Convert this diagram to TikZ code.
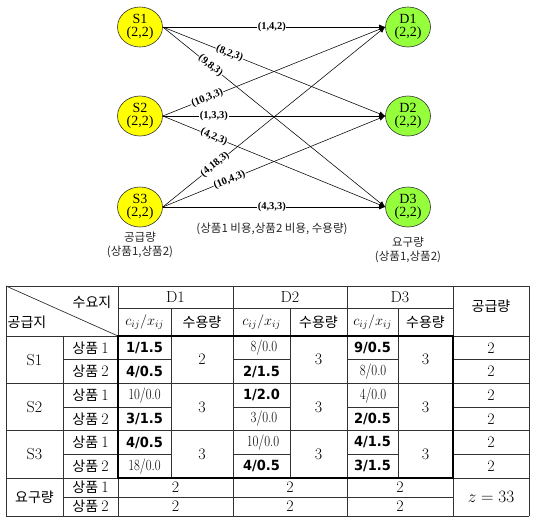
\documentclass[tikz,border=0pt]{standalone}
\usepackage{fontspec}
\usepackage{graphicx}
\newfontfamily\tms{Liberation Serif}
\newfontfamily\kr{Noto Sans CJK KR}
\newfontfamily\bsans{DejaVu Sans}
\usetikzlibrary{arrows.meta,shapes.geometric}
\definecolor{sy}{RGB}{255,255,0}
\definecolor{dg}{RGB}{150,255,60}
\definecolor{tl}{RGB}{50,50,50}
\newcommand\cxv[1]{\scalebox{0.82}[1]{#1}}
\newcommand\bxv[1]{\scalebox{0.93}[1]{#1}}
\newcommand\pn[1]{상품 {\rmfamily\fontsize{16}{16}\selectfont #1}}
\begin{document}
\begin{tikzpicture}[x=1pt,y=-1pt,
  snode/.style={ellipse,draw=black!80,line width=0.6pt,fill=sy,minimum width=45pt,minimum height=40pt,inner sep=0pt,align=center,font=\tms\fontsize{14}{13.5}\selectfont},
  dnode/.style={snode,fill=dg},
  flow/.style={draw=black,line width=0.55pt,-{Latex[length=6pt,width=5pt]}},
  elab/.style={fill=white,inner sep=0.6pt,sloped,font=\tms\bfseries\fontsize{10.5}{11}\selectfont},
  captext/.style={align=center,text=black!85,font=\kr\fontsize{11.5}{14}\selectfont},
  tthin/.style={draw=tl,line width=0.7pt},
  tthick/.style={draw=black,line width=2.4pt},
  big/.style={inner sep=0pt,font=\fontsize{16}{16}\selectfont},
  ko/.style={inner sep=0pt,font=\kr\fontsize{14}{14}\selectfont},
  cx/.style={inner sep=0pt,font=\fontsize{15.5}{15.5}\selectfont},
  bx/.style={inner sep=0pt,font=\bsans\bfseries\fontsize{14}{14}\selectfont}
]
\useasboundingbox (0,0) rectangle (534,528);

% ---------- network ----------
\node[snode] (S1) at (140,27) {S1\\(2,2)};
\node[snode] (S2) at (140,116) {S2\\(2,2)};
\node[snode] (S3) at (140,207) {S3\\(2,2)};
\node[dnode] (D1) at (408,27) {D1\\(2,2)};
\node[dnode] (D2) at (408,116) {D2\\(2,2)};
\node[dnode] (D3) at (408,207) {D3\\(2,2)};

\draw[flow] (S1.east) -- node[elab,pos=0.49] (l11) {(1,4,2)} (D1.west);
\draw[flow] (S1.east) -- node[elab,pos=0.30] (l12) {(8,2,3)} (D2.west);
\draw[flow] (S1.east) -- node[elab,pos=0.215] (l13) {(9,8,3)} (D3.west);
\draw[flow] (S2.east) -- node[elab,pos=0.20] (l21) {(10,3,3)} (D1.west);
\draw[flow] (S2.east) -- node[elab,pos=0.23] (l22) {(1,3,3)} (D2.west);
\draw[flow] (S2.east) -- node[elab,pos=0.23] (l23) {(4,2,3)} (D3.west);
\draw[flow] (S3.east) -- node[elab,pos=0.235] (l31) {(4,18,3)} (D1.west);
\draw[flow] (S3.east) -- node[elab,pos=0.30] (l32) {(10,4,3)} (D2.west);
\draw[flow] (S3.east) -- node[elab,pos=0.49] (l33) {(4,3,3)} (D3.west);

\node[captext] (capS) at (140,245) {공급량\\(상품1,상품2)};
\node[captext] (capD) at (408,250) {요구량\\(상품1,상품2)};
\node[captext] (capE) at (272,229) {(상품1 비용,상품2 비용, 수용량)};

% ---------- table grid ----------
\draw[tthin] (6,286) -- (529,286);
\draw[tthin] (118,308) -- (453,308);
\draw[tthin] (6,336) -- (118,336) (453,336) -- (529,336);
\foreach \y in {359.67,407,454.33}
  \draw[tthin] (63,\y) -- (171,\y) (233,\y) -- (290,\y) (347,\y) -- (398,\y) (453,\y) -- (529,\y);
\foreach \y in {383.33,430.67}
  \draw[tthin] (6,\y) -- (529,\y);
\draw[tthin] (6,478) -- (118,478) (453,478) -- (529,478);
\draw[tthin] (63,497) -- (453,497);
\draw[tthin] (6,516) -- (529,516);
\draw[tthin] (6,286) -- (6,516);
\draw[tthin] (63,336) -- (63,516);
\draw[tthin] (118,286) -- (118,336) (118,478) -- (118,516);
\draw[tthin] (171,308) -- (171,478);
\draw[tthin] (233,286) -- (233,516);
\draw[tthin] (290,308) -- (290,478);
\draw[tthin] (347,286) -- (347,516);
\draw[tthin] (398,308) -- (398,478);
\draw[tthin] (453,286) -- (453,336) (453,478) -- (453,516);
\draw[tthin] (529,286) -- (529,516);
\draw[tthin] (6,286) -- (118,336);
\draw[tthick] (118,336) rectangle (453,478);

% ---------- header ----------
\node[ko] (hsu) at (92,302) {수요지};
\node[ko] (hgo) at (27,322) {공급지};
\node[big] (hd1) at (175.5,297) {D1};
\node[big] (hd2) at (290,297) {D2};
\node[big] (hd3) at (400,297) {D3};
\node[ko] (hsup) at (491,306) {공급량};
\node[inner sep=0pt,font=\fontsize{14.5}{14.5}\selectfont] (hc1) at (144.5,322) {$c_{ij}/x_{ij}$};
\node[inner sep=0pt,font=\fontsize{14.5}{14.5}\selectfont] (hc2) at (261.5,322) {$c_{ij}/x_{ij}$};
\node[inner sep=0pt,font=\fontsize{14.5}{14.5}\selectfont] (hc3) at (372.5,322) {$c_{ij}/x_{ij}$};
\node[ko] (hq1) at (202,322) {수용량};
\node[ko] (hq2) at (318.5,322) {수용량};
\node[ko] (hq3) at (425.5,322) {수용량};

% ---------- row labels ----------
\node[big] (rs1) at (34.5,359.67) {S1};
\node[big] (rs2) at (34.5,407) {S2};
\node[big] (rs3) at (34.5,454.33) {S3};
\node[ko] (rdm) at (34.5,497) {요구량};
\node[ko] (p1) at (90.5,347.8) {\pn{1}};
\node[ko] (p2) at (90.5,371.5) {\pn{2}};
\node[ko] (p3) at (90.5,395.2) {\pn{1}};
\node[ko] (p4) at (90.5,418.8) {\pn{2}};
\node[ko] (p5) at (90.5,442.5) {\pn{1}};
\node[ko] (p6) at (90.5,466.2) {\pn{2}};
\node[ko] (p7) at (90.5,487.5) {\pn{1}};
\node[ko] (p8) at (90.5,506.5) {\pn{2}};

% ---------- D1 ----------
\node[bx] (a11) at (144.5,347.8) {\bxv{1/1.5}};
\node[bx] (a12) at (144.5,371.5) {\bxv{4/0.5}};
\node[cx] (a21) at (144.5,395.2) {\cxv{10/0.0}};
\node[bx] (a22) at (144.5,418.8) {\bxv{3/1.5}};
\node[bx] (a31) at (144.5,442.5) {\bxv{4/0.5}};
\node[cx] (a32) at (144.5,466.2) {\cxv{18/0.0}};
\node[big] (q11) at (202,359.67) {2};
\node[big] (q21) at (202,407) {3};
\node[big] (q31) at (202,454.33) {3};
% ---------- D2 ----------
\node[cx] (b11) at (264,347.8) {\cxv{8/0.0}};
\node[bx] (b12) at (261.5,371.5) {\bxv{2/1.5}};
\node[bx] (b21) at (261.5,395.2) {\bxv{1/2.0}};
\node[cx] (b22) at (264,418.8) {\cxv{3/0.0}};
\node[cx] (b31) at (263,442.5) {\cxv{10/0.0}};
\node[bx] (b32) at (261.5,466.2) {\bxv{4/0.5}};
\node[big] (q12) at (318.5,359.67) {3};
\node[big] (q22) at (318.5,407) {3};
\node[big] (q32) at (318.5,454.33) {3};
% ---------- D3 ----------
\node[bx] (c11) at (372.5,347.8) {\bxv{9/0.5}};
\node[cx] (c12) at (373,371.5) {\cxv{8/0.0}};
\node[cx] (c21) at (373,395.2) {\cxv{4/0.0}};
\node[bx] (c22) at (372.5,418.8) {\bxv{2/0.5}};
\node[bx] (c31) at (372.5,442.5) {\bxv{4/1.5}};
\node[bx] (c32) at (372.5,466.2) {\bxv{3/1.5}};
\node[big] (q13) at (425.5,359.67) {3};
\node[big] (q23) at (425.5,407) {3};
\node[big] (q33) at (425.5,454.33) {3};
% ---------- supply ----------
\node[big] (s1) at (491,347.8) {2};
\node[big] (s2) at (491,371.5) {2};
\node[big] (s3) at (491,395.2) {2};
\node[big] (s4) at (491,418.8) {2};
\node[big] (s5) at (491,442.5) {2};
\node[big] (s6) at (491,466.2) {2};
% ---------- demand ----------
\node[big] (e11) at (175.5,487.5) {2};
\node[big] (e12) at (290,487.5) {2};
\node[big] (e13) at (400,487.5) {2};
\node[big] (e21) at (175.5,506.5) {2};
\node[big] (e22) at (290,506.5) {2};
\node[big] (e23) at (400,506.5) {2};
\node[big] (zz) at (491,497) {$z=33$};
\end{tikzpicture}
\end{document}
